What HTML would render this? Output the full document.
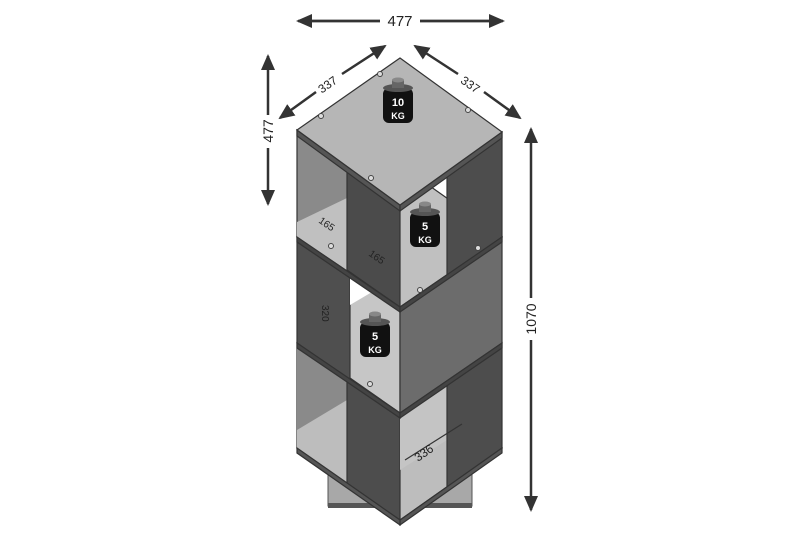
<!DOCTYPE html>
<html><head><meta charset="utf-8"><style>
html,body{margin:0;padding:0;background:#fff;}
svg{display:block;}
text{font-family:"Liberation Sans",sans-serif;}
</style></head><body>
<svg width="800" height="533" viewBox="0 0 800 533" xmlns="http://www.w3.org/2000/svg">
<defs>
<marker id="ah" markerWidth="10" markerHeight="10" refX="8" refY="5" orient="auto" markerUnits="userSpaceOnUse">
<path d="M0,0 L10,5 L0,10 z" fill="#333"/></marker>
<marker id="as" markerWidth="16" markerHeight="14" refX="14" refY="7" orient="auto" markerUnits="userSpaceOnUse">
<path d="M0,0 L16,7 L0,14 z" fill="#333"/></marker>
</defs>
<g stroke="#333" stroke-width="2.5" fill="none">
<line x1="310" y1="21" x2="380" y2="21"/><line x1="420" y1="21" x2="490" y2="21"/>
<line x1="380" y1="21" x2="298" y2="21" marker-end="url(#as)"/>
<line x1="420" y1="21" x2="503" y2="21" marker-end="url(#as)"/>
<line x1="268" y1="115" x2="268" y2="56" marker-end="url(#as)"/>
<line x1="268" y1="148" x2="268" y2="204" marker-end="url(#as)"/>
<line x1="531" y1="298" x2="531" y2="129" marker-end="url(#as)"/>
<line x1="531" y1="340" x2="531" y2="510" marker-end="url(#as)"/>
<line x1="316" y1="92" x2="280" y2="118" marker-end="url(#as)"/>
<line x1="342" y1="74" x2="385" y2="46" marker-end="url(#as)"/>
<line x1="458" y1="74" x2="415" y2="46" marker-end="url(#as)"/>
<line x1="484" y1="92" x2="520" y2="118" marker-end="url(#as)"/>
</g>
<text x="400" y="26" font-size="15" text-anchor="middle" fill="#222">477</text>
<text transform="translate(273,131) rotate(-90)" font-size="14" text-anchor="middle" fill="#222">477</text>
<text transform="translate(536,319) rotate(-90)" font-size="14" text-anchor="middle" fill="#222">1070</text>
<text transform="translate(330,88) rotate(-35)" font-size="12" text-anchor="middle" fill="#222">337</text>
<text transform="translate(468,88) rotate(35)" font-size="12" text-anchor="middle" fill="#222">337</text>

<!-- base plinth -->
<rect x="328" y="470" width="144" height="36" fill="#a8a8a8" stroke="#555"/>
<rect x="328" y="503" width="144" height="5" fill="#555"/>

<g stroke="#333" stroke-width="1.2">
<!-- TIER 3 (bottom) -->
<polygon points="297,343 400,418 502,343 400,270" fill="#fff" stroke="none"/>
<polygon points="297,343 400,418 400,520 297,448" fill="#8a8a8a"/>
<polygon points="297,448 400,520 502,448 400,380" fill="#bdbdbd"/>
<polygon points="297,448 400,520 400,410 347,380 297,415" fill="#bdbdbd" stroke="none"/>
<polygon points="297,343 347,380 347,400 297,430" fill="#8a8a8a" stroke="none"/>
<polygon points="347,380 400,418 400,520 347,484" fill="#4d4d4d"/>
<polygon points="400,418 447,384 447,440 400,470" fill="#c4c4c4" stroke="none"/>
<polygon points="447,384 502,343 502,448 447,487" fill="#4d4d4d"/>
<polygon points="400,520 502,448 502,453 400,525" fill="#555"/>
<polygon points="297,448 400,520 400,525 297,453" fill="#555"/>
<line x1="405" y1="460" x2="462" y2="424" stroke="#333"/>
<text transform="translate(418,462) rotate(-35)" font-size="12" fill="#222" stroke="none">336</text>

<!-- TIER 2 -->
<polygon points="297,237 400,307 400,415 297,343" fill="#4f4f4f"/>
<polygon points="350,275 400,307 400,413 350,378" fill="#c6c6c6"/>
<polygon points="350,275 372,292 350,305" fill="#fff" stroke="none"/>
<polygon points="400,307 502,237 502,343 400,413" fill="#6c6c6c"/>
<polygon points="297,343 400,413 400,418 297,348" fill="#444"/>
<polygon points="400,413 502,343 502,348 400,418" fill="#444"/>
<text transform="translate(322,305) rotate(90)" font-size="10" fill="#222" stroke="none">320</text>

<!-- TIER 1 -->
<polygon points="297,130 400,205 400,307 297,237" fill="#8a8a8a"/>
<polygon points="297,237 400,307 502,237 400,165" fill="#c0c0c0"/>
<polygon points="297,222 347,198 347,270 297,237" fill="#c0c0c0" stroke="none"/>
<polygon points="347,167 400,205 400,307 347,270" fill="#4b4b4b"/>
<polygon points="400,205 447,171 447,180 420,192 400,205" fill="#fff" stroke="none"/>
<polygon points="447,171 502,132 502,237 447,276" fill="#4d4d4d"/>
<polygon points="297,237 400,307 400,312 297,242" fill="#444"/>
<polygon points="400,307 502,237 502,242 400,312" fill="#444"/>
<text transform="translate(318,222) rotate(35)" font-size="10" fill="#222" stroke="none">165</text>
<text transform="translate(368,255) rotate(35)" font-size="10" fill="#222" stroke="none">165</text>

<!-- top -->
<polygon points="297,130 400,205 400,211 297,136" fill="#555"/>
<polygon points="400,205 502,132 502,138 400,211" fill="#555"/>
<polygon points="297,130 400,58 502,132 400,205" fill="#b6b6b6"/>
</g>
<g fill="#ddd" stroke="#444" stroke-width="1">
<circle cx="380" cy="74" r="2.5"/><circle cx="321" cy="116" r="2.5"/><circle cx="468" cy="110" r="2.5"/><circle cx="371" cy="178" r="2.5"/>
<circle cx="331" cy="246" r="2.5"/><circle cx="478" cy="248" r="2.5"/><circle cx="420" cy="290" r="2.5"/><circle cx="370" cy="384" r="2.5"/>
</g>
<!-- weights -->
<g font-weight="bold" fill="#fff" text-anchor="middle">
<g transform="translate(398,88)">
<rect x="-15" y="0" width="30" height="35" rx="6" fill="#111"/><ellipse cx="0" cy="0" rx="15" ry="4" fill="#555"/>
<rect x="-6" y="-8" width="12" height="8" fill="#666"/><ellipse cx="0" cy="-8" rx="6" ry="2.5" fill="#888"/>
<text x="0" y="18" font-size="11">10</text><text x="0" y="31" font-size="9">KG</text></g>
<g transform="translate(425,212)">
<rect x="-15" y="0" width="30" height="35" rx="6" fill="#111"/><ellipse cx="0" cy="0" rx="15" ry="4" fill="#555"/>
<rect x="-6" y="-8" width="12" height="8" fill="#666"/><ellipse cx="0" cy="-8" rx="6" ry="2.5" fill="#888"/>
<text x="0" y="18" font-size="11">5</text><text x="0" y="31" font-size="9">KG</text></g>
<g transform="translate(375,322)">
<rect x="-15" y="0" width="30" height="35" rx="6" fill="#111"/><ellipse cx="0" cy="0" rx="15" ry="4" fill="#555"/>
<rect x="-6" y="-8" width="12" height="8" fill="#666"/><ellipse cx="0" cy="-8" rx="6" ry="2.5" fill="#888"/>
<text x="0" y="18" font-size="11">5</text><text x="0" y="31" font-size="9">KG</text></g>
</g>
</svg>
</body></html>
